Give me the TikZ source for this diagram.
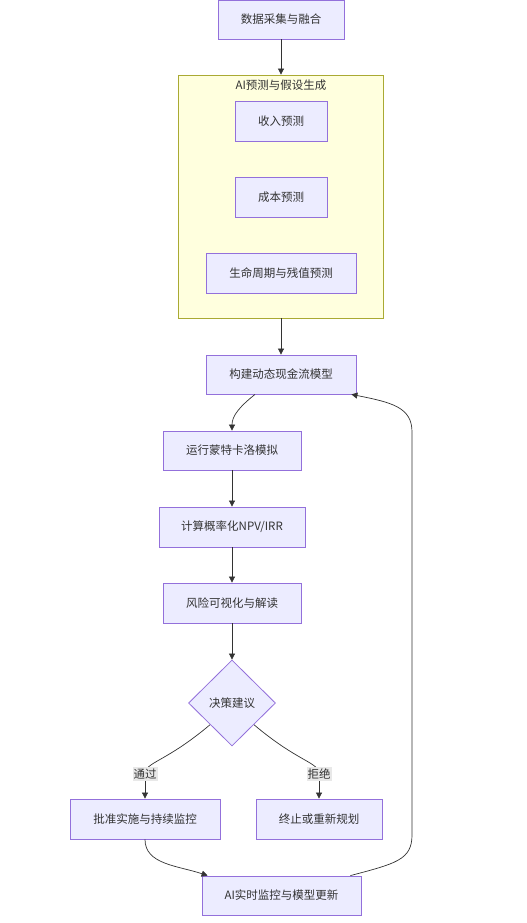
\documentclass[tikz,border=0pt]{standalone}
\usepackage{fontspec}
\setmainfont{Noto Sans CJK SC}
\usetikzlibrary{arrows.meta,shapes.geometric,backgrounds}
\definecolor{ink}{HTML}{333333}
\definecolor{nodefill}{HTML}{ECECFF}
\definecolor{nodeline}{HTML}{9370DB}
\definecolor{groupfill}{HTML}{FFFFDE}
\definecolor{groupline}{HTML}{AAAA33}
\definecolor{tagfill}{HTML}{E8E8E8}
\newcommand{\flowfont}{\fontsize{11.5}{14}\selectfont}
\tikzset{
 every node/.append style={font=\flowfont,text=ink,align=center},
 box/.style={draw=nodeline,fill=nodefill,line width=.8pt,inner sep=4pt,minimum height=39pt},
 choice/.style={diamond,draw=nodeline,fill=nodefill,line width=.8pt,inner sep=0pt,minimum width=87pt,minimum height=86pt},
 group/.style={draw=groupline,fill=groupfill,line width=.8pt},
 tag/.style={fill=tagfill,inner xsep=1pt,inner ysep=1.5pt},
 route/.style={draw=ink,line width=.7pt},
 flow/.style={route,-{Triangle[length=6pt,width=6pt]}},
}

\begin{document}
\begin{tikzpicture}[x=1pt,y=1pt]
\useasboundingbox (0,0) rectangle (527,-923);

\node[box,minimum width=126pt] (collect) at (281,-19.5) {数据采集与融合};

\node[group,minimum width=205pt,minimum height=243pt] (ai) at (281,-196.5) {};
\node (aititle) at (281,-85) {AI预测与假设生成};
\node[box,minimum width=92pt,minimum height=40pt] (income) at (281,-121) {收入预测};
\node[box,minimum width=92pt,minimum height=40pt] (cost) at (281,-197) {成本预测};
\node[box,minimum width=150pt,minimum height=40pt] (life) at (281,-273) {生命周期与残值预测};
\draw[flow] (collect.south) -- (ai.north);

\node[box,minimum width=150pt] (build) at (281,-374.5) {构建动态现金流模型};
\node[box,minimum width=138pt] (mc) at (232,-450.5) {运行蒙特卡洛模拟};
\node[box,minimum width=146pt,minimum height=40pt] (npv) at (232,-527) {计算概率化NPV/IRR};
\node[box,minimum width=138pt,minimum height=40pt] (risk) at (232,-603) {风险可视化与解读};
\draw[flow] (ai.south) -- (build.north);
\draw[flow] ([xshift=-26pt]build.south) .. controls +(-15,-12) and +(0,15) .. (mc.north);
\draw[flow] (mc) -- (npv);
\draw[flow] (npv) -- (risk);

\node[choice] (decide) at (232,-703) {决策建议};
\draw[flow] (risk.south) -- (decide.north);

\node[box,minimum width=150pt,minimum height=40pt] (approve) at (145,-819) {批准实施与持续监控};
\node[box,minimum width=126pt,minimum height=40pt] (stop) at (319,-819) {终止或重新规划};
\node[tag] (yes) at (145,-774) {通过};
\node[tag] (no) at (319,-774) {拒绝};
\begin{scope}[on background layer]
\draw[route] (decide.south west) .. controls +(-45,-38) and +(0,12) .. (yes.center);
\draw[route] (decide.south east) .. controls +(45,-38) and +(0,12) .. (no.center);
\end{scope}
\draw[flow] (yes.south) -- (approve.north);
\draw[flow] (no.south) -- (stop.north);

\node[box,minimum width=159pt] (monitor) at (281.5,-895.5) {AI实时监控与模型更新};
\draw[flow] (approve.south) .. controls +(0,-25) and +(-30,10) .. ([xshift=6pt]monitor.north west);

% feedback loop
\coordinate (loopa) at (412,-835);
\coordinate (loopb) at (412,-432);
\draw[flow] ([xshift=-11pt]monitor.north east) .. controls +(45,12) and +(0,-25) .. (loopa)
  -- (loopb) .. controls +(0,25) and +(40,-8) .. ([xshift=-5pt]build.south east);

\end{tikzpicture}
\end{document}
